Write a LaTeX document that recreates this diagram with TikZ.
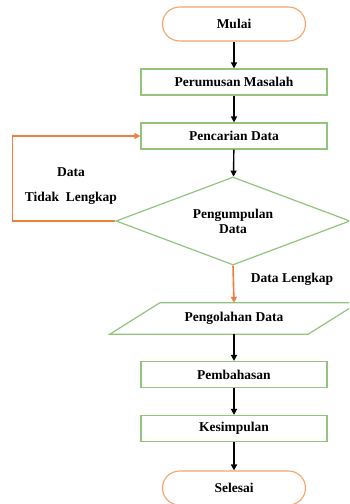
\documentclass[tikz,border=0pt]{standalone}
\usepackage{fontspec}
\setmainfont{Liberation Serif}
\usepackage{tikz}
\usetikzlibrary{shapes.geometric,arrows.meta,positioning,calc}
\definecolor{flowgreen}{HTML}{93C47D}
\definecolor{floworange}{HTML}{EF7F3A}
\definecolor{termorange}{HTML}{F4A36C}

\begin{document}
\begin{tikzpicture}[x=1pt, y=-1pt,
    term/.style={draw=termorange, line width=1.1pt, rounded corners=17pt, fill=white, minimum width=143pt, minimum height=34pt, font=\bfseries\fontsize{13.5}{15}\selectfont},
    proc/.style={draw=flowgreen, line width=1.2pt, fill=white, minimum width=186pt, minimum height=26pt, inner sep=0pt, font=\bfseries\fontsize{13.5}{15}\selectfont},
    label/.style={font=\bfseries\fontsize{13.5}{15}\selectfont, text=black},
    flow/.style={line width=1.4pt, -{Triangle[length=6pt, width=6pt]}},
    back/.style={line width=1.6pt, draw=floworange, -{Triangle[length=6pt, width=6pt]}}
]
    \useasboundingbox (0,0) rectangle (349,504);
    \clip (0,0) rectangle (349,504);

    % Start / end
    \node[term] (mulai) at (234, 24) {Mulai};
    \node[term] (selesai) at (234, 488) {Selesai};

    % Process boxes
    \node[proc] (rumus) at (234, 82) {Perumusan Masalah};
    \node[proc] (cari) at (234, 136) {Pencarian Data};
    \node[proc] (bahas) at (234, 374.5) {Pembahasan};
    \node[proc] (simpul) at (234, 428.5) {Kesimpulan};

    % Decision
    \node[diamond, draw=flowgreen, line width=1.2pt, fill=white, aspect=2.6, inner sep=0pt,
          minimum width=234pt, minimum height=88pt, align=center,
          font=\bfseries\fontsize{13.5}{15}\selectfont] (kumpul) at (233, 221) {Pengumpulan\\Data};

    % Input / output
    \node[minimum width=198pt, minimum height=31pt, inner sep=0pt] (olah) at (234, 318.5) {};
    \draw[draw=flowgreen, line width=1.2pt, fill=white]
        ($(olah.north west)+(25,0)$) -- ($(olah.north east)+(25,0)$) --
        ($(olah.south east)+(-25,0)$) -- ($(olah.south west)+(-25,0)$) -- cycle;
    \node[label] (olahtext) at (olah) {Pengolahan Data};

    % Labels
    \node[label] (tidak1) at (71, 172) {Data};
    \node[label] (tidak2) at (71, 198) {Tidak\ \ Lengkap};
    \node[label] (lengkap) at (292, 279) {Data Lengkap};

    % Arrows
    \draw[flow] (mulai) -- (rumus);
    \draw[flow] (rumus) -- (cari);
    \draw[flow] (cari) -- (kumpul);
    \draw[back] (kumpul.south) -- (olah.north);
    \draw[back] (kumpul.west) -- ++(-103,0) |- (cari.west);
    \draw[flow] (olah.south) -- (bahas.north);
    \draw[flow] (bahas) -- (simpul);
    \draw[flow] (simpul) -- (selesai);

\end{tikzpicture}
\end{document}
